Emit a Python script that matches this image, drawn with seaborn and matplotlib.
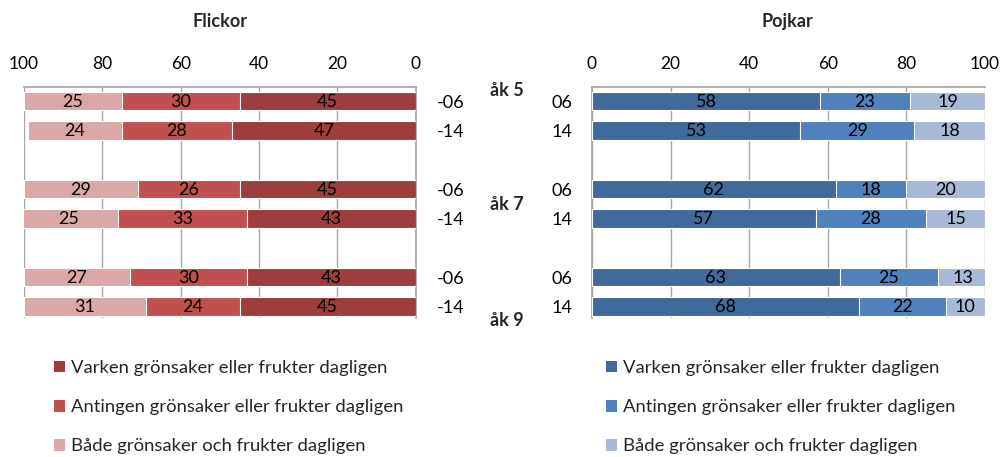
import numpy as np
import pandas as pd
import matplotlib
matplotlib.use("Agg")
import matplotlib.pyplot as plt
from matplotlib.patches import Patch
import seaborn as sns

# Survey shares (%) per grade and year
rows = ["-06", "-14", "-06", "-14", "-06", "-14"]
rows_boys = ["06", "14", "06", "14", "06", "14"]
row_pos = [0, 1, 3, 4, 6, 7]
grades = ["åk 5", "åk 7", "åk 9"]

girls_neither = [45, 47, 45, 43, 43, 45]
girls_either = [30, 28, 26, 33, 30, 24]
girls_both = [25, 24, 29, 25, 27, 31]

boys_neither = [58, 53, 62, 57, 63, 68]
boys_either = [23, 29, 18, 28, 25, 22]
boys_both = [19, 18, 20, 15, 13, 10]

series_names = [
    "Varken grönsaker eller frukter dagligen",
    "Antingen grönsaker eller frukter dagligen",
    "Både grönsaker och frukter dagligen",
]
red_colors = ["#9E3E3C", "#C0504D", "#DBA8A7"]
blue_colors = ["#416A9C", "#4F81BD", "#A8B9D8"]

sns.set_theme(style="white")
plt.rcParams["font.family"] = ["Lato", "DejaVu Sans"]

fig = plt.figure(figsize=(10.02, 4.57), dpi=100)
ax_g = fig.add_axes([0.024, 0.3042, 0.391, 0.5054])
ax_b = fig.add_axes([0.5908, 0.3042, 0.3922, 0.5054])

GRID = "#A6A6A6"
BAR_H = 0.63


def draw_panel(ax, neither, either, both, colors):
    df = pd.DataFrame({
        "pos": row_pos,
        "neither": neither,
        "either": either,
        "both": both,
    })
    df["c1"] = df["neither"]
    df["c2"] = df["neither"] + df["either"]
    df["c3"] = df["c2"] + df["both"]
    # stacked layers drawn back to front from cumulative totals
    for col, color in zip(["c3", "c2", "c1"], colors[::-1]):
        sns.barplot(data=df, x=col, y="pos", orient="y", native_scale=True,
                    color=color, saturation=1, width=BAR_H, edgecolor="white",
                    linewidth=0.8, ax=ax, zorder=3)
    for _, r in df.iterrows():
        for val, left in [(r["neither"], 0), (r["either"], r["c1"]), (r["both"], r["c2"])]:
            ax.text(left + val / 2, r["pos"] + 0.03, f"{int(val)}", ha="center", va="center",
                    fontsize=13, color="black", zorder=5)
    ax.set_ylim(7.39, -0.477)
    ax.set_xlabel("")
    ax.set_ylabel("")
    ax.set_xticks([0, 20, 40, 60, 80, 100])
    ax.xaxis.tick_top()
    ax.tick_params(axis="x", length=0, labelsize=12.5, pad=11, colors="black")
    ax.grid(axis="x", color=GRID, linewidth=1, zorder=0)
    ax.grid(axis="y", visible=False)
    for s in ax.spines.values():
        s.set_visible(False)
    ax.spines["top"].set_visible(True)
    ax.spines["top"].set_color(GRID)


draw_panel(ax_g, girls_neither, girls_either, girls_both, red_colors)
draw_panel(ax_b, boys_neither, boys_either, boys_both, blue_colors)

# girls: reversed axis, category labels on the right
ax_g.set_xlim(100, 0)
ax_g.spines["right"].set_visible(True)
ax_g.spines["right"].set_color(GRID)
ax_g.yaxis.tick_right()
ax_g.set_yticks(row_pos)
ax_g.set_yticklabels(rows)
ax_g.tick_params(axis="y", length=0, labelsize=13, pad=15, colors="black")

# boys: normal axis, category labels on the left
ax_b.set_xlim(0, 100)
ax_b.spines["left"].set_visible(True)
ax_b.spines["left"].set_color(GRID)
ax_b.set_yticks(row_pos)
ax_b.set_yticklabels(rows_boys)
ax_b.tick_params(axis="y", length=0, labelsize=13, pad=14, colors="black")

fig.text(0.22, 0.954, "Flickor", ha="center", va="center", fontsize=13, fontweight="bold")
fig.text(0.786, 0.954, "Pojkar", ha="center", va="center", fontsize=13, fontweight="bold")

for g, y in zip(grades, [91, 205, 320]):
    fig.text(0.506, 1 - y / 457, g, ha="center", va="center", fontsize=13, fontweight="bold")

for ax, colors, x0 in [(ax_g, red_colors, 0.054), (ax_b, blue_colors, 0.605)]:
    handles = [Patch(facecolor=c, edgecolor="none") for c in colors]
    fig.legend(handles, series_names, loc="upper left", bbox_to_anchor=(x0, 0.212),
               frameon=False, fontsize=13.3, handlelength=0.6, handleheight=0.6,
               handletextpad=0.3, labelspacing=1.25, borderaxespad=0, borderpad=0)

fig.savefig("out.png", dpi=100, facecolor="white")
